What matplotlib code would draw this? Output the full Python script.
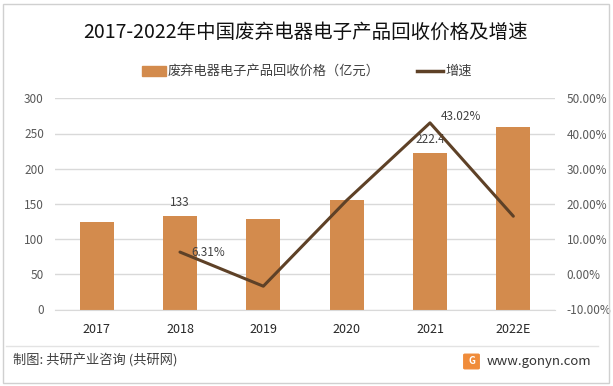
import numpy as np
import matplotlib
matplotlib.use("Agg")
import matplotlib.pyplot as plt
from matplotlib.patches import Rectangle, FancyBboxPatch
from matplotlib.lines import Line2D

plt.rcParams['font.family'] = ['Noto Sans CJK SC', 'DejaVu Sans']

years = ['2017', '2018', '2019', '2020', '2021', '2022E']
price = [125, 133, 128.5, 155.5, 222.4, 259]
growth = [np.nan, 6.31, -3.38, 21.0, 43.02, 16.5]
bar_labels = {1: '133', 4: '222.4'}
line_labels = {1: '6.31%', 4: '43.02%'}

bar_color = '#D38B4D'
line_color = '#5E4127'
grid_color = '#D9D9D9'

fig = plt.figure(figsize=(6.13, 3.86), dpi=100)
W, H = 613, 386
ax = fig.add_axes([55 / W, (H - 309.5) / H, 500 / W, 211.2 / H])
ax2 = ax.twinx()

x = np.arange(len(years))
ax.bar(x, price, width=0.41, color=bar_color, zorder=2)
ax.set_xlim(-0.5, 5.5)
ax.set_ylim(0, 300)
ax.set_yticks(np.arange(0, 301, 50))
ax.grid(axis='y', color=grid_color, linewidth=1, zorder=0)
ax.set_axisbelow(True)

ax2.plot(x, growth, color=line_color, linewidth=2.2, solid_capstyle='round', zorder=3)
ax2.set_ylim(-10, 50)
ax2.set_yticks(np.arange(-10, 51, 10))
ax2.set_yticklabels(['%.2f%%' % v for v in np.arange(-10, 51, 10)])

for a in (ax, ax2):
    for s in a.spines.values():
        s.set_visible(False)
    a.tick_params(length=0, labelsize=8.5, labelcolor='#595959')
ax.spines['bottom'].set_visible(True)
ax.spines['bottom'].set_color(grid_color)
ax.tick_params(axis='y', pad=8)
ax2.tick_params(axis='y', pad=8.5)
ax.set_xticks(x)
ax.set_xticklabels(years, fontsize=9, color='#262626')
ax.tick_params(axis='x', pad=10)

for i, t in bar_labels.items():
    ax.annotate(t, (x[i], price[i]), xytext=(0, 5), textcoords='offset points',
                ha='center', va='bottom', fontsize=8.5, color='#404040')
for i, t in line_labels.items():
    ax2.annotate(t, (x[i], growth[i]), xytext=(8, 0), textcoords='offset points',
                 ha='left', va='bottom' if i == 4 else 'center', fontsize=8.5, color='#404040')

fig.text(306 / W, 1 - 32 / H, '2017-2022年中国废弃电器电子产品回收价格及增速',
         ha='center', va='center', fontsize=14, color='#111111')

# legend
ly = 1 - 71 / H
fig.patches.append(Rectangle((142 / W, ly - 5 / H), 24 / W, 10 / H,
                             transform=fig.transFigure, color=bar_color))
fig.text(168 / W, ly, '废弃电器电子产品回收价格（亿元）', ha='left', va='center',
         fontsize=9.5, color='#404040')
fig.lines.append(Line2D([417 / W, 443 / W], [ly, ly], transform=fig.transFigure,
                        color=line_color, linewidth=2.5))
fig.text(445 / W, ly, '增速', ha='left', va='center', fontsize=9.5, color='#404040')

# footer
fig.lines.append(Line2D([6 / W, 598 / W], [1 - 346 / H, 1 - 346 / H],
                        transform=fig.transFigure, color='#E3E3E3', linewidth=1))
fig.text(13 / W, 1 - 361 / H, '制图: 共研产业咨询 (共研网)', ha='left', va='center',
         fontsize=9.5, color='#404040')
fig.patches.append(FancyBboxPatch((465 / W, 1 - 368 / H), 13 / W, 13 / H,
                                  boxstyle='round,pad=0.002', transform=fig.transFigure,
                                  color='#F08C3A'))
fig.text(471.5 / W, 1 - 361.5 / H, 'G', ha='center', va='center', fontsize=7,
         color='white', fontweight='bold')
fig.text(487 / W, 1 - 361 / H, 'www.gonyn.com', ha='left', va='center',
         fontsize=9.5, color='#333333')

# outer border
fig.patches.append(Rectangle((3 / W, 3 / H), 606 / W, 379 / H, transform=fig.transFigure,
                             fill=False, edgecolor='#D0D0D0', linewidth=1))

fig.savefig('out.png', dpi=100)
